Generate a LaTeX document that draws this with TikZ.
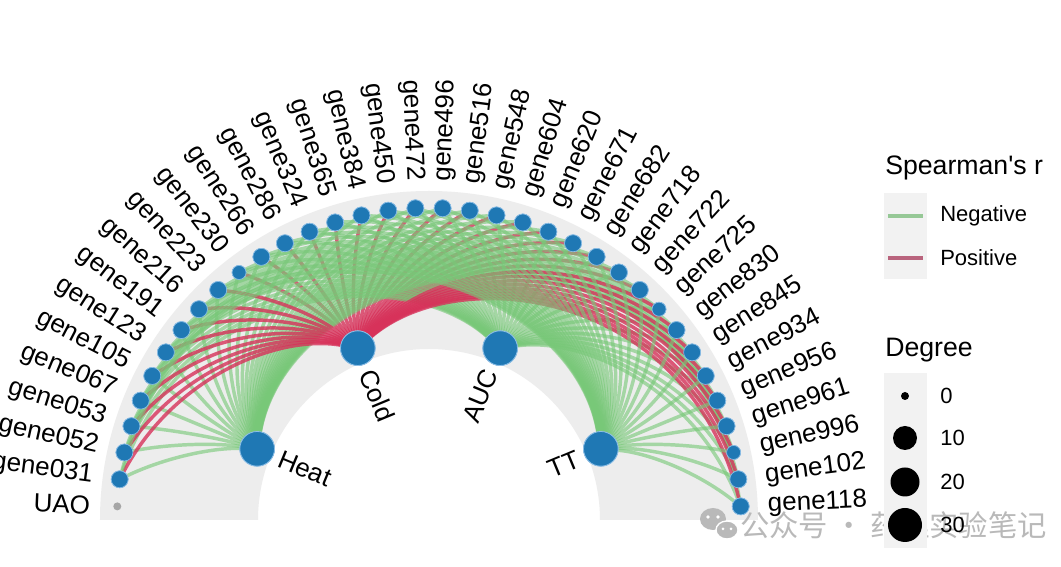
\documentclass[tikz,border=0pt]{standalone}
\usepackage{fontspec}
\setmainfont{Liberation Sans}
\newfontfamily\cjk{Noto Sans CJK SC}
\usetikzlibrary{calc}
\definecolor{nodeblue}{RGB}{31,120,180}
\definecolor{halo}{RGB}{140,190,230}
\definecolor{band}{RGB}{237,237,237}
\definecolor{keybg}{RGB}{242,242,242}
\definecolor{neggreen}{RGB}{120,200,120}
\definecolor{posred}{RGB}{215,50,90}
\definecolor{legneg}{RGB}{150,200,150}
\definecolor{legpos}{RGB}{185,100,125}
\definecolor{wm}{RGB}{185,185,185}
\tikzset{
  hub/.style={circle, fill=nodeblue, draw=halo, line width=0.6pt, minimum size=26pt, inner sep=0pt},
  gene/.style={circle, fill=nodeblue, draw=halo, line width=0.5pt, minimum size=12.75pt, inner sep=0pt},
  smallgene/.style={gene, minimum size=10.5pt},
  lab/.style={font=\fontsize{19.5}{22}\selectfont, inner sep=0pt},
  legtitle/.style={font=\fontsize{20}{24}\selectfont, inner sep=0pt, anchor=west},
  legitem/.style={font=\fontsize{16.5}{20}\selectfont, inner sep=0pt, anchor=west},
  negedge/.style={draw=neggreen, line width=2.6pt, draw opacity=0.62},
  posedge/.style={draw=posred, line width=2.6pt, draw opacity=0.8},
  keyline/.style={line width=3pt},
  degdot/.style={circle, fill=black, inner sep=0pt},
}
% spiral edge from hub #1 (angle #2) to gene #3, style #4
\newcommand\spiraledge[4]{%
  \pgfmathsetmacro\ga{177.5-5*#3}%
  \pgfmathsetmacro\k{4/3*tan((\ga-#2)/4)}%
  \pgfmathsetmacro\ta{186*\k}%
  \pgfmathsetmacro\tb{-312*\k}%
  \pgfmathsetmacro\pa{#2+90}%
  \pgfmathsetmacro\pb{\ga+90}%
  \draw[#4] (h#1) .. controls ($(#2:228)+(\pa:\ta)$) and ($(\ga:270)+(\pb:\tb)$) .. (g#3);%
}
\begin{document}
\begin{tikzpicture}[x=0.75pt, y=0.75pt]
\useasboundingbox (-429,-47) rectangle (632,520);
\fill[white] (-429,-47) rectangle (632,520);
% gray band
\fill[band] (329,0) arc[start angle=0, end angle=180, radius=246.75pt] -- (-171,0) arc[start angle=180, end angle=0, radius=128.25pt] -- cycle;

% watermark
\fill[wm] (284,1) ellipse[x radius=13, y radius=11];
\fill[wm, draw=white, line width=1pt] (298,-10) ellipse[x radius=11, y radius=9];
\fill[white] (279,3) circle[radius=1.8] (289,3) circle[radius=1.8] (294,-9) circle[radius=1.5] (302,-9) circle[radius=1.5];
\node[font=\cjk\fontsize{22}{26}\selectfont, text=wm, anchor=west, inner sep=0pt] (wmtext) at (311,-5) {公众号 · 药理实验笔记};

% hub nodes
\node[hub] (h1) at (157.5:186) {};
\node[hub] (h2) at (112.5:186) {};
\node[hub] (h3) at (67.5:186) {};
\node[hub] (h4) at (22.5:186) {};

% gene nodes and labels
\node[circle, fill=gray!70, minimum size=6pt, inner sep=0pt] (uao) at (177.5:312) {};
\node[lab, anchor=east, rotate=-2.5] (luao) at (177.5:339) {UAO};
\foreach \n [count=\j] in {031,052,053,067,105,123,191,216,223,230,266,286,324,365,384,450,472,496,516,548,604,620,671,682,718,722,725,830,845,934,956,961,996,102,118}{
  \pgfmathsetmacro\ga{177.5-5*\j}
  \ifnum\j=10 \node[smallgene] (g\j) at (\ga:312) {};
  \else\ifnum\j=27 \node[smallgene] (g\j) at (\ga:312) {};
  \else\ifnum\j=33 \node[smallgene] (g\j) at (\ga:312) {};
  \else \node[gene] (g\j) at (\ga:312) {};
  \fi\fi\fi
  \ifnum\j<18
    \node[lab, anchor=east, rotate=\ga-180] (gl\j) at (\ga:339) {gene\n};
  \else
    \node[lab, anchor=west, rotate=\ga] (gl\j) at (\ga:339) {gene\n};
  \fi
}

% edges (spirals in polar coordinates)
\foreach \j in {10,...,26}{\spiraledge{2}{112.5}{\j}{posedge}}
\foreach \j in {1,...,35}{\spiraledge{1}{157.5}{\j}{negedge}}
\foreach \j in {1,...,35}{\spiraledge{3}{67.5}{\j}{negedge}}
\foreach \j in {1,...,9,27,28,...,35}{\spiraledge{2}{112.5}{\j}{posedge}}
\foreach \j in {1,...,35}{\spiraledge{4}{22.5}{\j}{negedge}}

% redraw nodes on top of edges
\foreach \i/\ia in {1/157.5,2/112.5,3/67.5,4/22.5}{
  \node[hub] at (\ia:186) {};
}
\foreach \j in {1,...,35}{
  \pgfmathsetmacro\ga{177.5-5*\j}
  \ifnum\j=10 \node[smallgene] at (\ga:312) {};
  \else\ifnum\j=27 \node[smallgene] at (\ga:312) {};
  \else\ifnum\j=33 \node[smallgene] at (\ga:312) {};
  \else \node[gene] at (\ga:312) {};
  \fi\fi\fi
}

% hub labels
\node[lab, anchor=west, rotate=-22.5] (l1) at (157.5:162) {Heat};
\node[lab, anchor=west, rotate=-67.5] (l2) at (112.5:162) {Cold};
\node[lab, anchor=east, rotate=67.5] (l3) at (67.5:162) {AUC};
\node[lab, anchor=east, rotate=22.5] (l4) at (22.5:162) {TT};

% legend: Spearman's r
\node[legtitle] (lt1) at (456,352) {Spearman\textquotesingle s r};
\fill[keybg] (455,241) rectangle (498,327);
\coordinate (n1) at (459,304); \coordinate (n2) at (494,304);
\coordinate (p1) at (459,262); \coordinate (p2) at (494,262);
\draw[keyline, legneg] (n1) -- (n2);
\draw[keyline, legpos] (p1) -- (p2);
\node[legitem] (ln) at (511,304) {Negative};
\node[legitem] (lp) at (511,262) {Positive};

% legend: Degree
\node[legtitle] (lt2) at (456,170) {Degree};
\fill[keybg] (455,-28) rectangle (498,147);
\node[degdot, minimum size=6pt] (d0) at (476,124) {};
\node[degdot, minimum size=18pt] (d10) at (476,82) {};
\node[degdot, minimum size=21.75pt] (d20) at (476,38) {};
\node[degdot, minimum size=25.5pt] (d30) at (476,-5) {};
\node[legitem] (t0) at (511,124) {0};
\node[legitem] (t10) at (511,82) {10};
\node[legitem] (t20) at (511,38) {20};
\node[legitem] (t30) at (511,-5) {30};
\end{tikzpicture}
\end{document}
